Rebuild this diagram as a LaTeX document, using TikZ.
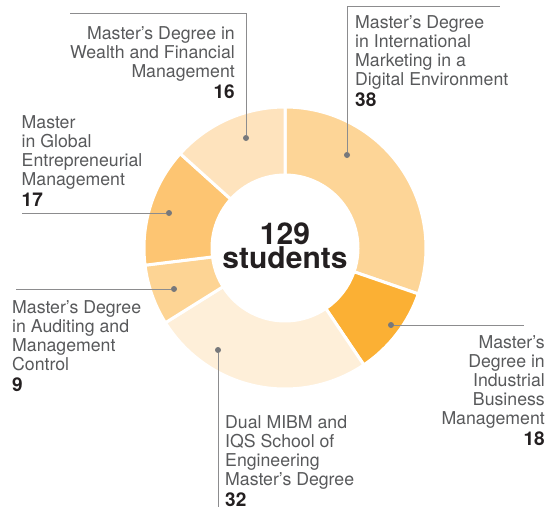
\documentclass[tikz,border=0pt]{standalone}
\usepackage{fontspec}
\setmainfont{TeX Gyre Heros}
\definecolor{cmktg}{HTML}{FDD597}
\definecolor{cind}{HTML}{FBB034}
\definecolor{cdual}{HTML}{FEEFD9}
\definecolor{caudit}{HTML}{FDD494}
\definecolor{cglobal}{HTML}{FDC572}
\definecolor{cwealth}{HTML}{FEE3BD}
\definecolor{txtgray}{HTML}{58595B}
\definecolor{numblack}{HTML}{231F20}
\definecolor{leadgray}{HTML}{8C8C8E}
\definecolor{dotgray}{HTML}{77787B}
\begin{document}
\begin{tikzpicture}[x=1pt, y=1pt,
        slice/.style={draw=white, line width=3pt},
        lbl/.style={inner sep=0pt, text=txtgray, font=\fontsize{17.7}{19}\selectfont},
        leader/.style={draw=leadgray, line width=1pt}
    ]
    \useasboundingbox (0,0) rectangle (547,-507);

    % ring, angles
    \begin{scope}[shift={(285,-248)}]
        \filldraw[slice, fill=cmktg] (90:141) arc[start angle=90, end angle=-19, radius=141]
            -- (-19:73) arc[start angle=-19, end angle=90, radius=73] -- cycle;
        \filldraw[slice, fill=cind] (-19:141) arc[start angle=-19, end angle=-56, radius=141]
            -- (-56:73) arc[start angle=-56, end angle=-19, radius=73] -- cycle;
        \filldraw[slice, fill=cdual] (-56:141) arc[start angle=-56, end angle=-148, radius=141]
            -- (-148:73) arc[start angle=-148, end angle=-56, radius=73] -- cycle;
        \filldraw[slice, fill=caudit] (212:141) arc[start angle=212, end angle=187, radius=141]
            -- (187:73) arc[start angle=187, end angle=212, radius=73] -- cycle;
        \filldraw[slice, fill=cglobal] (187:141) arc[start angle=187, end angle=138, radius=141]
            -- (138:73) arc[start angle=138, end angle=187, radius=73] -- cycle;
        \filldraw[slice, fill=cwealth] (138:141) arc[start angle=138, end angle=90, radius=141]
            -- (90:73) arc[start angle=90, end angle=138, radius=73] -- cycle;
    \end{scope}

    \node[font=\fontsize{30}{24}\selectfont\bfseries, text=numblack, align=center, inner sep=0pt,
        anchor=base] (total) at (285,-268) {129\\students};

    \begin{scope}[every node/.style={circle, fill=dotgray, inner sep=0pt, minimum size=6pt}]
        \node (d38) at (347,-155) {};
        \node (d18) at (391,-325) {};
        \node (d32) at (218,-350) {};
        \node (d9) at (174,-289) {};
        \node (d17) at (169,-213) {};
        \node (d16) at (246,-138) {};
    \end{scope}

    \coordinate (k38) at (500,-6);
    \coordinate (k18) at (524,-325);
    \coordinate (k32) at (218,-507);
    \coordinate (k9) at (16,-289);
    \coordinate (k17) at (22,-213);
    \coordinate (k16) at (70,-13);

    \draw[leader] (d38) |- (k38);
    \draw[leader] (d18) -- (k18);
    \draw[leader] (d32) -- (k32);
    \draw[leader] (d9) -- (k9);
    \draw[leader] (d17) -- (k17);
    \draw[leader] (d16) |- (k16);

    % base anchor sits on the last line (the number)
    \node[lbl, align=left, anchor=base west] (l38) at (355,-106.7)
        {Master’s Degree\\in International\\Marketing in a\\Digital Environment\\[2pt]
        {\fontsize{19}{21}\selectfont\bfseries\color{numblack}38}};
    \node[lbl, align=right, anchor=base east] (l18) at (545,-445)
        {Master’s\\Degree in\\Industrial\\Business\\Management\\[2pt]
        {\fontsize{19}{21}\selectfont\bfseries\color{numblack}18}};
    \node[lbl, align=left, anchor=base west] (l32) at (225,-506)
        {Dual MIBM and\\IQS School of\\Engineering\\Master’s Degree\\[2pt]
        {\fontsize{19}{21}\selectfont\bfseries\color{numblack}32}};
    \node[lbl, align=left, anchor=base west] (l9) at (12,-391.7)
        {Master’s Degree\\in Auditing and\\Management\\Control\\[2pt]
        {\fontsize{19}{21}\selectfont\bfseries\color{numblack}9}};
    \node[lbl, align=left, anchor=base west] (l17) at (21.5,-206.7)
        {Master\\in Global\\Entrepreneurial\\Management\\[2pt]
        {\fontsize{19}{21}\selectfont\bfseries\color{numblack}17}};
    \node[lbl, align=right, anchor=base east] (l16) at (235,-98.3)
        {Master’s Degree in\\Wealth and Financial\\Management\\[2pt]
        {\fontsize{19}{21}\selectfont\bfseries\color{numblack}16}};
\end{tikzpicture}
\end{document}
